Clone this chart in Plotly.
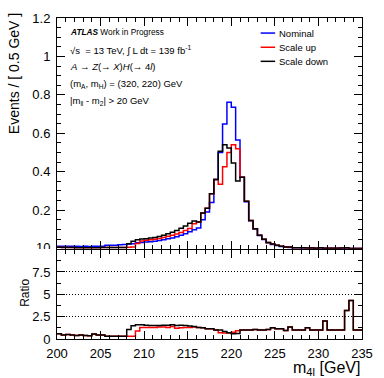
import plotly.graph_objects as go

# ---------------- data ----------------
bin_start = 200.0
bin_width = 0.5

nominal = [0.012, 0.013, 0.012, 0.013, 0.012, 0.011, 0.012, 0.011, 0.012, 0.012, 0.013,
           0.017, 0.018, 0.018, 0.020, 0.021, 0.024, 0.026,
           0.030, 0.032, 0.034, 0.036, 0.038, 0.042, 0.046, 0.051, 0.056, 0.062, 0.070, 0.078,
           0.088, 0.098, 0.107, 0.150, 0.190,
           0.240, 0.360, 0.500, 0.648, 0.762, 0.735, 0.565, 0.372,
           0.244, 0.145, 0.102, 0.069, 0.048, 0.031, 0.022, 0.016, 0.011, 0.008,
           0.006, 0.005, 0.004, 0.0035, 0.003, 0.003, 0.0025, 0.002, 0.002, 0.0018,
           0.0016, 0.0015, 0.0012, 0.001, 0.001, 0.0008, 0.0008]

scale_up = [0.007, 0.006, 0.006, 0.006, 0.005, 0.005, 0.005, 0.004, 0.005, 0.005, 0.006,
            0.006, 0.006, 0.006, 0.006, 0.006, 0.007, 0.008,
            0.027, 0.040, 0.043, 0.046, 0.049, 0.053, 0.058, 0.064, 0.070, 0.076, 0.084, 0.094,
            0.105, 0.130, 0.139, 0.186, 0.210,
            0.285, 0.360, 0.335, 0.426, 0.500, 0.540, 0.520, 0.372,
            0.246, 0.147, 0.104, 0.070, 0.049, 0.032, 0.024, 0.018, 0.013, 0.008,
            0.008, 0.005, 0.004, 0.0042, 0.003, 0.003, 0.0025, 0.004, 0.002, 0.0018,
            0.0016, 0.0015, 0.0038, 0.0043, 0.001, 0.0008, 0.0008]

scale_down = [0.007, 0.006, 0.006, 0.006, 0.005, 0.005, 0.005, 0.004, 0.005, 0.005, 0.006,
              0.006, 0.006, 0.006, 0.006, 0.006, 0.026, 0.038,
              0.046, 0.050, 0.052, 0.055, 0.058, 0.063, 0.070, 0.077, 0.085, 0.094, 0.106, 0.118,
              0.132, 0.144, 0.139, 0.186, 0.210,
              0.285, 0.360, 0.507, 0.541, 0.524, 0.446, 0.352, 0.372,
              0.246, 0.147, 0.104, 0.070, 0.049, 0.032, 0.024, 0.018, 0.013, 0.008,
              0.008, 0.005, 0.004, 0.0042, 0.003, 0.003, 0.0025, 0.004, 0.002, 0.0018,
              0.0016, 0.0015, 0.0038, 0.0043, 0.001, 0.0008, 0.0008]

ratio_up = [0.6, 0.45, 0.5, 0.45, 0.4, 0.45, 0.4, 0.35, 0.55, 0.45, 0.45, 0.3, 0.3, 0.3, 0.3, 0.3,
            0.3, 0.3, 0.9, 1.3, 1.3, 1.3, 1.3, 1.35, 1.35, 1.3, 1.4, 1.2, 1.25, 1.3, 1.3, 1.35,
            1.3, 1.25, 1.15,
            1.15, 1.0, 0.7, 0.68, 0.68, 0.75, 0.92, 1.0,
            1.0, 1.0, 1.05, 1.0, 1.0, 1.05, 1.25, 1.15, 1.15, 0.95, 1.35, 1.0, 1.0, 1.0, 1.25,
            1.0, 1.0, 1.0, 2.0, 1.0, 1.0, 1.0, 1.0, 3.2, 4.3, 1.0, 1.0]

ratio_down = [0.6, 0.45, 0.5, 0.45, 0.4, 0.45, 0.4, 0.35, 0.55, 0.45, 0.45, 0.3, 0.3, 0.3, 0.3, 0.3,
              1.06, 1.47, 1.6, 1.6, 1.55, 1.5, 1.5, 1.5, 1.55, 1.55, 1.6, 1.5, 1.55, 1.5, 1.45, 1.4,
              1.3, 1.25, 1.15,
              1.15, 1.0, 1.0, 0.85, 0.7, 0.6, 0.62, 1.0,
              1.0, 1.0, 1.05, 1.0, 1.0, 1.05, 1.25, 1.15, 1.15, 0.95, 1.35, 1.0, 1.0, 1.0, 1.25,
              1.0, 1.0, 1.0, 2.0, 1.0, 1.0, 1.0, 1.0, 3.2, 4.3, 1.0, 1.0]

x_ticks = [200, 205, 210, 215, 220, 225, 230, 235]
main_ticks = [0.2, 0.4, 0.6, 0.8, 1.0, 1.2]
main_ticktext = ["0.2", "0.4", "0.6", "0.8", "1", "1.2"]
ratio_ticks = [0, 2.5, 5, 7.5, 10]
ratio_ticktext = ["0", "2.5", "5", "7.5", ""]
ratio_top_label = "10"

series = [("Nominal", nominal, "#0000ff"),
          ("Scale up", scale_up, "#ff0000"),
          ("Scale down", scale_down, "#000000")]
ratios = [(ratio_up, "#ff0000"), (ratio_down, "#000000")]

# ---------------- figure ----------------
n = len(nominal)
edges = [bin_start + bin_width * i for i in range(n + 1)]


def step(vals):
    return list(vals) + [vals[-1]]


FONT = "Liberation Sans, Arial, Helvetica, sans-serif"
W, H = 384, 378
ML, MR, MT, MB = 57, 11, 13, 39
PW, PH = W - ML - MR, H - MT - MB


def px(x):
    return (x - ML) / PW


def py(y):
    return (H - MB - y) / PH


fig = go.Figure()
for name, vals, col in series:
    fig.add_trace(go.Scatter(x=edges, y=step(vals), mode="lines", name=name,
                             line=dict(color=col, width=1.5, shape="hv"),
                             xaxis="x2", yaxis="y2", showlegend=False, hoverinfo="skip"))
for vals, col in ratios:
    fig.add_trace(go.Scatter(x=edges, y=step(vals), mode="lines",
                             line=dict(color=col, width=1.5, shape="hv"),
                             xaxis="x", yaxis="y", showlegend=False, hoverinfo="skip"))

common_x = dict(range=[200, 235], ticks="inside", ticklen=8, tickcolor="black",
                tickvals=x_ticks, showline=True, linecolor="black", linewidth=1,
                mirror="allticks", showgrid=False, zeroline=False,
                minor=dict(dtick=1, tick0=200, ticklen=4, tickcolor="black", ticks="inside"))

fig.update_layout(
    width=W, height=H,
    margin=dict(l=ML, r=MR, t=MT, b=MB, pad=0),
    paper_bgcolor="white", plot_bgcolor="white",
    font=dict(family=FONT, size=13, color="black"),
    xaxis=dict(domain=[0, 1], anchor="y", tickfont=dict(size=13), ticklabelstandoff=2,
               **common_x),
    yaxis=dict(domain=[0, 0.2785], anchor="x", range=[0, 10], tickvals=ratio_ticks,
               ticktext=ratio_ticktext, ticks="inside", ticklen=8, tickcolor="black",
               showline=True, linecolor="black", linewidth=1, mirror="allticks",
               showgrid=True, gridcolor="black", griddash="1px,2px", gridwidth=1,
               zeroline=False, tickfont=dict(size=13), ticklabelstandoff=3,
               minor=dict(dtick=1.25, tick0=0, ticklen=4, tickcolor="black", ticks="inside",
                          showgrid=False)),
    xaxis2=dict(domain=[0, 1], anchor="y2", matches="x", showticklabels=False, **common_x),
    yaxis2=dict(domain=[0.2815, 1], anchor="x2", range=[0, 1.2], tickvals=main_ticks,
                ticktext=main_ticktext, ticks="inside", ticklen=8, tickcolor="black",
                showline=True, linecolor="black", linewidth=1, mirror="allticks",
                showgrid=False, zeroline=False, tickfont=dict(size=13), ticklabelstandoff=3,
                minor=dict(dtick=0.05, tick0=0, ticklen=4, tickcolor="black", ticks="inside")),
)

ann = []
# half-hidden "10" label at the top of the ratio axis (as in the reference)
ann.append(dict(text=ratio_top_label, x=px(52), y=py(246), xref="paper", yref="paper",
                xanchor="right", yanchor="middle", showarrow=False, font=dict(size=13)))
ann.append(dict(text="MMMM", x=px(54), y=py(248), xref="paper", yref="paper",
                xanchor="right", yanchor="top", showarrow=False,
                bgcolor="white", borderpad=0, borderwidth=0,
                font=dict(size=11, color="white")))

# axis titles
ann.append(dict(text="Events / [ 0.5 GeV ]", x=px(12), y=py(6), xref="paper", yref="paper",
                xanchor="center", yanchor="top", textangle=-90, showarrow=False,
                font=dict(size=14)))
ann.append(dict(text="Ratio", x=px(24), y=py(292), xref="paper", yref="paper",
                xanchor="center", yanchor="middle", textangle=-90, showarrow=False,
                font=dict(size=12)))
ann.append(dict(text="m<sub>4l</sub> [GeV]", x=px(373), y=py(369), xref="paper", yref="paper",
                xanchor="right", yanchor="middle", showarrow=False, font=dict(size=16)))

# info text
info = [("<b><i>ATLAS</i></b> Work in Progress", 27, 8.3),
        ("√s  = 13 TeV, ∫ L dt = 139 fb<sup>-1</sup>", 45, 9.5),
        ("<i>A</i> → <i>Z</i>(→ <i>X</i>)<i>H</i>(→ 4<i>l</i>)", 62, 9.5),
        ("(m<sub>A</sub>, m<sub>H</sub>) = (320, 220) GeV", 80, 9.5),
        ("|m<sub>ll</sub> - m<sub>2</sub>| > 20 GeV", 97, 9.5)]
for txt, yy, fs in info:
    ann.append(dict(text=txt, x=px(68), y=py(yy), xref="paper", yref="paper",
                    xanchor="left", yanchor="middle", showarrow=False, font=dict(size=fs)))

# legend (manual, ROOT-like short line samples)
leg_y = [28.3, 42.7, 57]
for (name, vals, col), yy in zip(series, leg_y):
    fig.add_shape(type="line", xref="paper", yref="paper", x0=px(268), x1=px(283),
                  y0=py(yy), y1=py(yy), line=dict(color=col, width=1.5))
    ann.append(dict(text=name, x=px(285), y=py(yy), xref="paper", yref="paper",
                    xanchor="left", yanchor="middle", showarrow=False, font=dict(size=9.5)))

fig.update_layout(annotations=ann)
fig.write_html("out.html", config={"displayModeBar": False, "staticPlot": True},
               post_script="document.body.style.margin='0';document.body.style.padding='0';")
